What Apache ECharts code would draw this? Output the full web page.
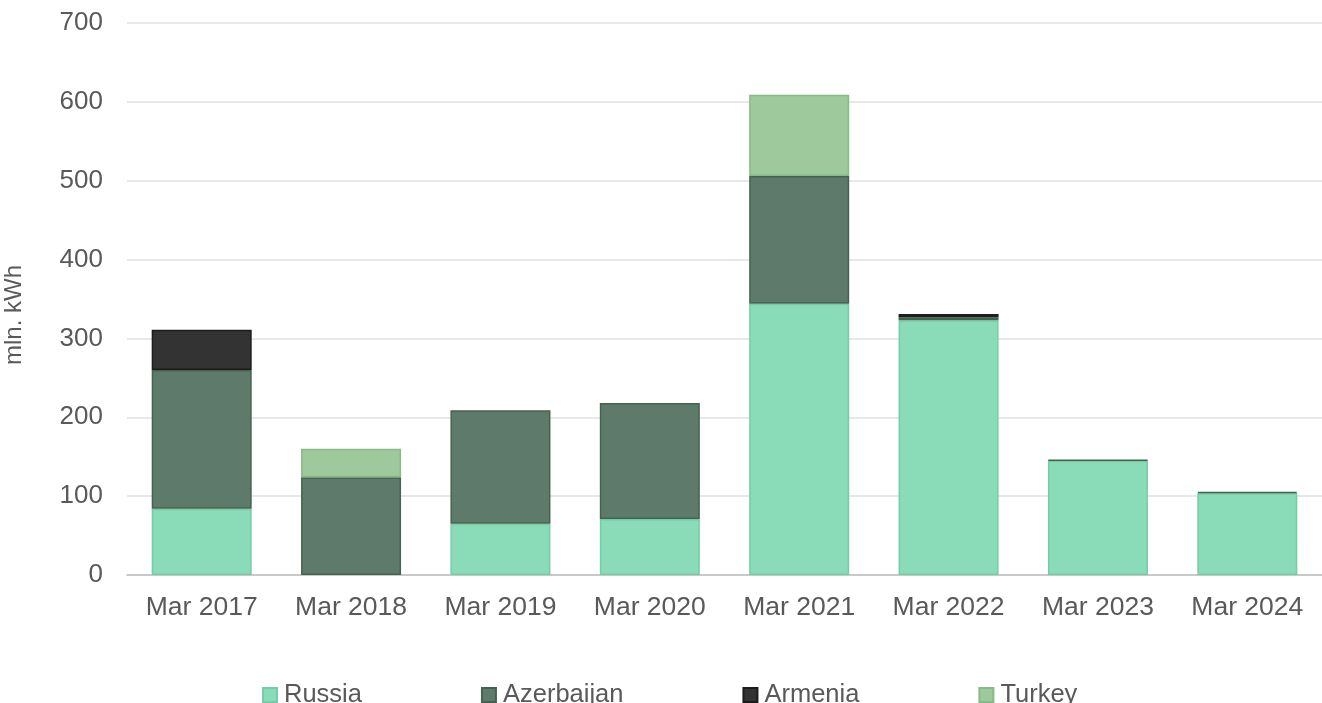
<!DOCTYPE html>
<html>
<head>
<meta charset="utf-8">
<title>Electricity imports, mln. kWh</title>
<script src="https://cdn.jsdelivr.net/npm/echarts@6/dist/echarts.min.js"></script>
<style>
  html, body { margin: 0; padding: 0; background: #fff; }
  #chart { width: 1322px; height: 703px; }
</style>
</head>
<body>
<div id="chart"></div>
<script>
// Monthly electricity imports by source country (mln. kWh)
const categories = ['Mar 2017', 'Mar 2018', 'Mar 2019', 'Mar 2020', 'Mar 2021', 'Mar 2022', 'Mar 2023', 'Mar 2024'];
const russia     = [84, 0, 65, 71, 344, 323, 145, 104];
const azerbaijan = [176, 124, 144, 147, 162, 4, 0.8, 1.5];
const armenia    = [51, 0, 0, 0, 0, 4, 0, 0];
const turkey     = [0, 36, 0, 0, 103, 0, 0, 0];
const yTicks = { min: 0, max: 700, interval: 100 };

const FONT = 'Liberation Sans, Arial, sans-serif';
const TEXT = '#595959';

function barSeries(name, data, fill, border) {
  return {
    name: name,
    type: 'bar',
    stack: 'total',
    // empty months get no segment at all, so no stray border line is drawn
    data: data.map(v => (v === 0 ? null : v)),
    barWidth: 100,
    itemStyle: { color: fill, borderColor: border, borderWidth: 1.5 },
    emphasis: { disabled: true }
  };
}

const chart = echarts.init(document.getElementById('chart'));
chart.setOption({
  animation: false,
  backgroundColor: '#ffffff',
  textStyle: { fontFamily: FONT },
  grid: { left: 127, right: 0, top: 23, bottom: 128, containLabel: false },
  legend: {
    left: 257,
    top: 677,
    itemWidth: 14,
    itemHeight: 14,
    itemGap: 119,
    icon: 'rect',
    textStyle: { fontFamily: FONT, fontSize: 25.5, color: TEXT, padding: [0, 0, 0, 2] },
    data: ['Russia', 'Azerbaijan', 'Armenia', 'Turkey']
  },
  xAxis: {
    type: 'category',
    data: categories,
    axisLine: { lineStyle: { color: '#bfbfbf', width: 1.5 } },
    axisTick: { show: false },
    axisLabel: { fontFamily: FONT, fontSize: 26.5, color: TEXT, margin: 19 }
  },
  yAxis: {
    type: 'value',
    min: yTicks.min,
    max: yTicks.max,
    interval: yTicks.interval,
    axisLine: { show: false },
    axisTick: { show: false },
    splitLine: { lineStyle: { color: '#e0e0e0', width: 1.5 } },
    axisLabel: { fontFamily: FONT, fontSize: 26, color: TEXT, margin: 24 }
  },
  graphic: [{
    type: 'text',
    x: 14,
    y: 315,
    rotation: Math.PI / 2,
    style: {
      text: 'mln. kWh',
      font: '24px ' + FONT,
      fill: TEXT,
      align: 'center',
      verticalAlign: 'middle'
    }
  }],
  series: [
    barSeries('Russia', russia, '#8adbb7', '#74cda4'),
    barSeries('Azerbaijan', azerbaijan, '#5e7a6a', '#46624f'),
    barSeries('Armenia', armenia, '#333333', '#1c1c1c'),
    barSeries('Turkey', turkey, '#9dc99d', '#86bb86')
  ]
});
</script>
</body>
</html>
